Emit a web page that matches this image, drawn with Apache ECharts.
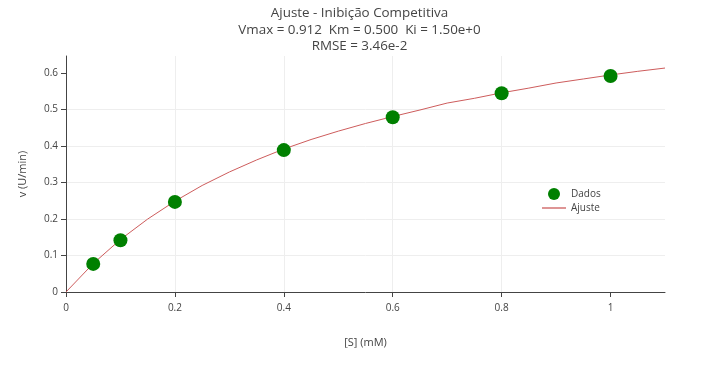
<!DOCTYPE html>
<html>
<head>
<meta charset="utf-8">
<script src="https://cdn.jsdelivr.net/npm/echarts@6/dist/echarts.min.js"></script>
<style>html,body{margin:0;padding:0;background:#fff}#c{width:719px;height:378px}</style>
</head>
<body>
<div id="c"></div>
<script>
// Observed data
var substrate = [0.05, 0.1, 0.2, 0.4, 0.6, 0.8, 1.0];
var velocity = [0.077, 0.142, 0.247, 0.389, 0.479, 0.545, 0.592];
// Fitted curve
var fitS = [0, 0.05, 0.1, 0.15, 0.2, 0.25, 0.3, 0.35, 0.4, 0.45, 0.5, 0.55, 0.6, 0.65, 0.7, 0.75, 0.8, 0.85, 0.9, 0.95, 1.0, 1.05, 1.1];
var fitV = [0, 0.078, 0.144, 0.200, 0.249, 0.292, 0.329, 0.362, 0.392, 0.418, 0.441, 0.462, 0.481, 0.499, 0.518, 0.531, 0.546, 0.559, 0.573, 0.584, 0.595, 0.605, 0.614];
var xTicks = [0, 0.2, 0.4, 0.6, 0.8, 1];
var yTicks = [0, 0.1, 0.2, 0.3, 0.4, 0.5, 0.6];
var titleLines = ['Ajuste - Inibição Competitiva', 'Vmax = 0.912  Km = 0.500  Ki = 1.50e+0', 'RMSE = 3.46e-2'];

var font = '"Open Sans", "Noto Sans", sans-serif';
var chart = echarts.init(document.getElementById('c'), null, {renderer: 'canvas'});
chart.setOption({
  animation: false,
  backgroundColor: '#fff',
  title: {
    text: titleLines.join('\n'),
    left: 'center',
    top: 0,
    textStyle: {fontFamily: font, fontSize: 13.4, fontWeight: 'normal', color: '#444', lineHeight: 16.5}
  },
  grid: {left: 66, right: 54, top: 56, bottom: 86, containLabel: false},
  legend: {
    orient: 'vertical',
    left: 537,
    top: 183,
    itemGap: 3,
    itemWidth: 24,
    itemHeight: 12,
    textStyle: {fontFamily: font, fontSize: 10, color: '#444'},
    data: [{name: 'Dados', icon: 'circle'}, {name: 'Ajuste', icon: 'path://M0,0 H22 V1.2 H0 Z'}]
  },
  xAxis: {
    type: 'value',
    min: 0, max: 1.1,
    name: '[S] (mM)',
    nameLocation: 'middle',
    nameGap: 45,
    nameTextStyle: {fontFamily: font, fontSize: 11, color: '#444'},
    axisLine: {show: true, onZero: false, lineStyle: {color: '#444', width: 1}},
    axisTick: {show: true, length: 5, lineStyle: {color: '#444'}, customValues: xTicks},
    axisLabel: {fontFamily: font, fontSize: 10, color: '#444', margin: 11, customValues: xTicks},
    splitLine: {show: true, showMinLine: false, showMaxLine: false, lineStyle: {color: '#eee', width: 1}}
  },
  yAxis: {
    type: 'value',
    min: 0, max: 0.647,
    name: 'v (U/min)',
    nameLocation: 'middle',
    nameGap: 38,
    nameRotate: 90,
    nameTextStyle: {fontFamily: font, fontSize: 11, color: '#444'},
    axisLine: {show: true, onZero: false, lineStyle: {color: '#444', width: 1}},
    axisTick: {show: true, length: 5, lineStyle: {color: '#444'}, customValues: yTicks},
    axisLabel: {fontFamily: font, fontSize: 10, color: '#444', margin: 8, customValues: yTicks},
    splitLine: {show: true, showMinLine: false, showMaxLine: false, lineStyle: {color: '#eee', width: 1}}
  },
  series: [
    {
      name: 'Ajuste',
      type: 'line',
      data: fitS.map(function (s, i) { return [s, fitV[i]]; }),
      showSymbol: false,
      symbol: 'none',
      smooth: false,
      lineStyle: {color: '#cd5c5c', width: 1},
      itemStyle: {color: '#cd5c5c'},
      z: 2
    },
    {
      name: 'Dados',
      type: 'scatter',
      data: substrate.map(function (s, i) { return [s, velocity[i]]; }),
      symbol: 'circle',
      symbolSize: 14,
      itemStyle: {color: '#008000', opacity: 1},
      z: 3
    }
  ]
});
</script>
</body>
</html>
